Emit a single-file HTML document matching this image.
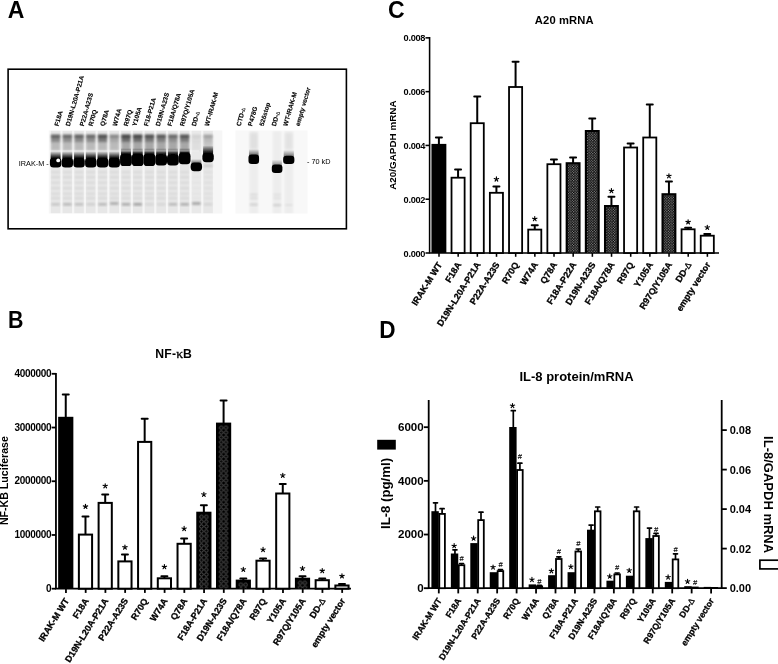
<!DOCTYPE html>
<html><head><meta charset="utf-8"><title>Figure</title>
<style>
html,body{margin:0;padding:0;background:#fff;}
body{width:778px;height:664px;overflow:hidden;}
svg{display:block;}
text{font-family:"Liberation Sans",sans-serif;font-weight:bold;fill:#000;}
.n{font-weight:normal;}
.s{font-family:"Liberation Serif",serif;font-weight:normal;}
</style></head><body>
<svg width="778" height="664" viewBox="0 0 778 664">
<defs>
<pattern id="pB" width="4.8" height="4.8" patternUnits="userSpaceOnUse"><rect width="4.8" height="4.8" fill="#000"/><ellipse cx="2.4" cy="2.4" rx="1.75" ry="1.7" fill="none" stroke="#707070" stroke-width="0.7"/></pattern>
<pattern id="pC" width="2.6" height="2.6" patternUnits="userSpaceOnUse"><rect width="2.6" height="2.6" fill="#000"/><rect x="0.2" y="0.2" width="0.95" height="0.95" fill="#e4e4e4"/><rect x="1.5" y="1.5" width="0.95" height="0.95" fill="#c8c8c8"/></pattern>
<filter id="b1" x="-50%" y="-50%" width="200%" height="200%"><feGaussianBlur stdDeviation="0.9"/></filter>
<filter id="b15" x="-50%" y="-50%" width="200%" height="200%"><feGaussianBlur stdDeviation="1.4"/></filter>
<filter id="b2" x="-50%" y="-50%" width="200%" height="200%"><feGaussianBlur stdDeviation="2.2"/></filter>
<filter id="b07" x="-50%" y="-50%" width="200%" height="200%"><feGaussianBlur stdDeviation="0.6"/></filter>
<filter id="b05" x="-5%" y="-5%" width="110%" height="110%"><feGaussianBlur stdDeviation="0.6"/></filter>
<linearGradient id="gs" x1="0" y1="0" x2="0" y2="1"><stop offset="0" stop-color="#000" stop-opacity="0"/><stop offset="0.3" stop-color="#000" stop-opacity="0.4"/><stop offset="0.65" stop-color="#000" stop-opacity="0.85"/><stop offset="1" stop-color="#000" stop-opacity="1"/></linearGradient>
<filter id="idt" filterUnits="userSpaceOnUse" x="0" y="0" width="778" height="664"><feGaussianBlur stdDeviation="0.38"/></filter>
<clipPath id="clL"><rect x="48.8" y="130.5" width="173.5" height="83"/></clipPath>
<clipPath id="clR"><rect x="235.5" y="130.5" width="72" height="83"/></clipPath>
</defs>
<rect width="778" height="664" fill="#fff"/>
<g filter="url(#idt)">

<text transform="translate(7.8 17.5) scale(0.98 1)" font-size="23.5">A</text>
<text transform="translate(7.9 328.2) scale(0.91 1)" font-size="23.5">B</text>
<text transform="translate(387.9 18.0) scale(0.98 1)" font-size="23.5">C</text>
<text transform="translate(379.2 337.7) scale(0.96 1)" font-size="23.5">D</text>
<rect x="8.1" y="69.2" width="338.3" height="159.6" fill="#fff" stroke="#000" stroke-width="1.6"/>
<g clip-path="url(#clL)"><g filter="url(#b05)">
<rect x="44" y="126" width="184" height="92" fill="#f6f6f6"/>
<rect x="50.8" y="130.5" width="9.6" height="83" fill="#000" opacity="0.06"/>
<rect x="51" y="134.2" width="9.2" height="3.6" fill="#000" opacity="0.32" filter="url(#b1)"/>
<rect x="51" y="135.2" width="9.2" height="7" fill="#000" opacity="0.4" filter="url(#b1)"/>
<rect x="51" y="142" width="9.2" height="8.5" fill="#000" opacity="0.19" filter="url(#b1)"/>
<rect x="50.6" y="151.2" width="10" height="9.1" fill="url(#gs)"/>
<rect x="49.9" y="157.8" width="11.4" height="9.8" fill="#000" rx="3.6" filter="url(#b07)"/>
<rect x="50.7" y="159" width="9.8" height="7.4" fill="#000" rx="2.8"/>
<rect x="51.2" y="171" width="8.8" height="2.4" fill="#000" opacity="0.05" filter="url(#b1)"/>
<rect x="51.2" y="176" width="8.8" height="2.4" fill="#000" opacity="0.06" filter="url(#b1)"/>
<rect x="51.2" y="181.5" width="8.8" height="2.4" fill="#000" opacity="0.05" filter="url(#b1)"/>
<rect x="51.2" y="187" width="8.8" height="2.4" fill="#000" opacity="0.06" filter="url(#b1)"/>
<rect x="51.2" y="192.5" width="8.8" height="2.4" fill="#000" opacity="0.05" filter="url(#b1)"/>
<rect x="51.2" y="197" width="8.8" height="2.4" fill="#000" opacity="0.06" filter="url(#b1)"/>
<rect x="51.4" y="203" width="8.4" height="2.6" fill="#000" opacity="0.14" filter="url(#b1)"/>
<rect x="62.53" y="130.5" width="9.6" height="83" fill="#000" opacity="0.06"/>
<rect x="62.73" y="134.2" width="9.2" height="3.6" fill="#000" opacity="0.3" filter="url(#b1)"/>
<rect x="62.73" y="135.2" width="9.2" height="7" fill="#000" opacity="0.38" filter="url(#b1)"/>
<rect x="62.73" y="142" width="9.2" height="8.5" fill="#000" opacity="0.19" filter="url(#b1)"/>
<rect x="62.33" y="151.2" width="10" height="9.1" fill="url(#gs)"/>
<rect x="61.63" y="157.8" width="11.4" height="9.8" fill="#000" rx="3.6" filter="url(#b07)"/>
<rect x="62.43" y="159" width="9.8" height="7.4" fill="#000" rx="2.8"/>
<rect x="62.93" y="171" width="8.8" height="2.4" fill="#000" opacity="0.05" filter="url(#b1)"/>
<rect x="62.93" y="176" width="8.8" height="2.4" fill="#000" opacity="0.06" filter="url(#b1)"/>
<rect x="62.93" y="181.5" width="8.8" height="2.4" fill="#000" opacity="0.05" filter="url(#b1)"/>
<rect x="62.93" y="187" width="8.8" height="2.4" fill="#000" opacity="0.06" filter="url(#b1)"/>
<rect x="62.93" y="192.5" width="8.8" height="2.4" fill="#000" opacity="0.05" filter="url(#b1)"/>
<rect x="62.93" y="197" width="8.8" height="2.4" fill="#000" opacity="0.06" filter="url(#b1)"/>
<rect x="63.13" y="203" width="8.4" height="2.6" fill="#000" opacity="0.2" filter="url(#b1)"/>
<rect x="74.26" y="130.5" width="9.6" height="83" fill="#000" opacity="0.06"/>
<rect x="74.46" y="134.2" width="9.2" height="3.6" fill="#000" opacity="0.32" filter="url(#b1)"/>
<rect x="74.46" y="135.2" width="9.2" height="7" fill="#000" opacity="0.4" filter="url(#b1)"/>
<rect x="74.46" y="142" width="9.2" height="8.5" fill="#000" opacity="0.19" filter="url(#b1)"/>
<rect x="74.06" y="151.2" width="10" height="9.1" fill="url(#gs)"/>
<rect x="73.36" y="157.8" width="11.4" height="9.8" fill="#000" rx="3.6" filter="url(#b07)"/>
<rect x="74.16" y="159" width="9.8" height="7.4" fill="#000" rx="2.8"/>
<rect x="74.66" y="171" width="8.8" height="2.4" fill="#000" opacity="0.05" filter="url(#b1)"/>
<rect x="74.66" y="176" width="8.8" height="2.4" fill="#000" opacity="0.06" filter="url(#b1)"/>
<rect x="74.66" y="181.5" width="8.8" height="2.4" fill="#000" opacity="0.05" filter="url(#b1)"/>
<rect x="74.66" y="187" width="8.8" height="2.4" fill="#000" opacity="0.06" filter="url(#b1)"/>
<rect x="74.66" y="192.5" width="8.8" height="2.4" fill="#000" opacity="0.05" filter="url(#b1)"/>
<rect x="74.66" y="197" width="8.8" height="2.4" fill="#000" opacity="0.06" filter="url(#b1)"/>
<rect x="74.86" y="203" width="8.4" height="2.6" fill="#000" opacity="0.17" filter="url(#b1)"/>
<rect x="85.99" y="130.5" width="9.6" height="83" fill="#000" opacity="0.06"/>
<rect x="86.19" y="134.2" width="9.2" height="3.6" fill="#000" opacity="0.3" filter="url(#b1)"/>
<rect x="86.19" y="135.2" width="9.2" height="7" fill="#000" opacity="0.38" filter="url(#b1)"/>
<rect x="86.19" y="142" width="9.2" height="8.5" fill="#000" opacity="0.19" filter="url(#b1)"/>
<rect x="85.79" y="151.2" width="10" height="9.1" fill="url(#gs)"/>
<rect x="85.09" y="157.8" width="11.4" height="9.8" fill="#000" rx="3.6" filter="url(#b07)"/>
<rect x="85.89" y="159" width="9.8" height="7.4" fill="#000" rx="2.8"/>
<rect x="86.39" y="171" width="8.8" height="2.4" fill="#000" opacity="0.05" filter="url(#b1)"/>
<rect x="86.39" y="176" width="8.8" height="2.4" fill="#000" opacity="0.06" filter="url(#b1)"/>
<rect x="86.39" y="181.5" width="8.8" height="2.4" fill="#000" opacity="0.05" filter="url(#b1)"/>
<rect x="86.39" y="187" width="8.8" height="2.4" fill="#000" opacity="0.06" filter="url(#b1)"/>
<rect x="86.39" y="192.5" width="8.8" height="2.4" fill="#000" opacity="0.05" filter="url(#b1)"/>
<rect x="86.39" y="197" width="8.8" height="2.4" fill="#000" opacity="0.06" filter="url(#b1)"/>
<rect x="86.59" y="203" width="8.4" height="2.6" fill="#000" opacity="0.1" filter="url(#b1)"/>
<rect x="97.72" y="130.5" width="9.6" height="83" fill="#000" opacity="0.06"/>
<rect x="97.92" y="134.2" width="9.2" height="3.6" fill="#000" opacity="0.38" filter="url(#b1)"/>
<rect x="97.92" y="135.2" width="9.2" height="7" fill="#000" opacity="0.47" filter="url(#b1)"/>
<rect x="97.92" y="142" width="9.2" height="8.5" fill="#000" opacity="0.19" filter="url(#b1)"/>
<rect x="97.52" y="151.2" width="10" height="9.1" fill="url(#gs)"/>
<rect x="96.82" y="157.8" width="11.4" height="9.8" fill="#000" rx="3.6" filter="url(#b07)"/>
<rect x="97.62" y="159" width="9.8" height="7.4" fill="#000" rx="2.8"/>
<rect x="98.12" y="171" width="8.8" height="2.4" fill="#000" opacity="0.05" filter="url(#b1)"/>
<rect x="98.12" y="176" width="8.8" height="2.4" fill="#000" opacity="0.06" filter="url(#b1)"/>
<rect x="98.12" y="181.5" width="8.8" height="2.4" fill="#000" opacity="0.05" filter="url(#b1)"/>
<rect x="98.12" y="187" width="8.8" height="2.4" fill="#000" opacity="0.06" filter="url(#b1)"/>
<rect x="98.12" y="192.5" width="8.8" height="2.4" fill="#000" opacity="0.05" filter="url(#b1)"/>
<rect x="98.12" y="197" width="8.8" height="2.4" fill="#000" opacity="0.06" filter="url(#b1)"/>
<rect x="98.32" y="203" width="8.4" height="2.6" fill="#000" opacity="0.2" filter="url(#b1)"/>
<rect x="109.45" y="130.5" width="9.6" height="83" fill="#000" opacity="0.06"/>
<rect x="109.65" y="134.2" width="9.2" height="3.6" fill="#000" opacity="0.21" filter="url(#b1)"/>
<rect x="109.65" y="135.2" width="9.2" height="7" fill="#000" opacity="0.27" filter="url(#b1)"/>
<rect x="109.65" y="142" width="9.2" height="8.5" fill="#000" opacity="0.19" filter="url(#b1)"/>
<rect x="109.25" y="151.2" width="10" height="9.1" fill="url(#gs)"/>
<rect x="108.55" y="157.8" width="11.4" height="9.8" fill="#000" rx="3.6" filter="url(#b07)"/>
<rect x="109.35" y="159" width="9.8" height="7.4" fill="#000" rx="2.8"/>
<rect x="109.85" y="171" width="8.8" height="2.4" fill="#000" opacity="0.05" filter="url(#b1)"/>
<rect x="109.85" y="176" width="8.8" height="2.4" fill="#000" opacity="0.06" filter="url(#b1)"/>
<rect x="109.85" y="181.5" width="8.8" height="2.4" fill="#000" opacity="0.05" filter="url(#b1)"/>
<rect x="109.85" y="187" width="8.8" height="2.4" fill="#000" opacity="0.06" filter="url(#b1)"/>
<rect x="109.85" y="192.5" width="8.8" height="2.4" fill="#000" opacity="0.05" filter="url(#b1)"/>
<rect x="109.85" y="197" width="8.8" height="2.4" fill="#000" opacity="0.06" filter="url(#b1)"/>
<rect x="110.05" y="202.2" width="8.4" height="2.6" fill="#000" opacity="0.26" filter="url(#b1)"/>
<rect x="121.18" y="130.5" width="9.6" height="83" fill="#000" opacity="0.06"/>
<rect x="121.38" y="134.2" width="9.2" height="3.6" fill="#000" opacity="0.41" filter="url(#b1)"/>
<rect x="121.38" y="135.2" width="9.2" height="7" fill="#000" opacity="0.52" filter="url(#b1)"/>
<rect x="121.38" y="142" width="9.2" height="8.5" fill="#000" opacity="0.27" filter="url(#b1)"/>
<rect x="120.98" y="148" width="10" height="8.3" fill="url(#gs)"/>
<rect x="120.08" y="153.8" width="11.8" height="12.2" fill="#000" rx="3.6" filter="url(#b07)"/>
<rect x="120.88" y="155" width="10.2" height="9.8" fill="#000" rx="2.8"/>
<rect x="121.58" y="171" width="8.8" height="2.4" fill="#000" opacity="0.05" filter="url(#b1)"/>
<rect x="121.58" y="176" width="8.8" height="2.4" fill="#000" opacity="0.06" filter="url(#b1)"/>
<rect x="121.58" y="181.5" width="8.8" height="2.4" fill="#000" opacity="0.05" filter="url(#b1)"/>
<rect x="121.58" y="187" width="8.8" height="2.4" fill="#000" opacity="0.06" filter="url(#b1)"/>
<rect x="121.58" y="192.5" width="8.8" height="2.4" fill="#000" opacity="0.05" filter="url(#b1)"/>
<rect x="121.58" y="197" width="8.8" height="2.4" fill="#000" opacity="0.06" filter="url(#b1)"/>
<rect x="121.78" y="203" width="8.4" height="2.6" fill="#000" opacity="0.26" filter="url(#b1)"/>
<rect x="132.91" y="130.5" width="9.6" height="83" fill="#000" opacity="0.06"/>
<rect x="133.11" y="134.2" width="9.2" height="3.6" fill="#000" opacity="0.41" filter="url(#b1)"/>
<rect x="133.11" y="135.2" width="9.2" height="7" fill="#000" opacity="0.52" filter="url(#b1)"/>
<rect x="133.11" y="142" width="9.2" height="8.5" fill="#000" opacity="0.27" filter="url(#b1)"/>
<rect x="132.71" y="148" width="10" height="8.3" fill="url(#gs)"/>
<rect x="131.81" y="153.8" width="11.8" height="12.2" fill="#000" rx="3.6" filter="url(#b07)"/>
<rect x="132.61" y="155" width="10.2" height="9.8" fill="#000" rx="2.8"/>
<rect x="133.31" y="171" width="8.8" height="2.4" fill="#000" opacity="0.05" filter="url(#b1)"/>
<rect x="133.31" y="176" width="8.8" height="2.4" fill="#000" opacity="0.06" filter="url(#b1)"/>
<rect x="133.31" y="181.5" width="8.8" height="2.4" fill="#000" opacity="0.05" filter="url(#b1)"/>
<rect x="133.31" y="187" width="8.8" height="2.4" fill="#000" opacity="0.06" filter="url(#b1)"/>
<rect x="133.31" y="192.5" width="8.8" height="2.4" fill="#000" opacity="0.05" filter="url(#b1)"/>
<rect x="133.31" y="197" width="8.8" height="2.4" fill="#000" opacity="0.06" filter="url(#b1)"/>
<rect x="133.51" y="203" width="8.4" height="2.6" fill="#000" opacity="0.3" filter="url(#b1)"/>
<rect x="144.64" y="130.5" width="9.6" height="83" fill="#000" opacity="0.06"/>
<rect x="144.84" y="134.2" width="9.2" height="3.6" fill="#000" opacity="0.38" filter="url(#b1)"/>
<rect x="144.84" y="135.2" width="9.2" height="7" fill="#000" opacity="0.47" filter="url(#b1)"/>
<rect x="144.84" y="142" width="9.2" height="8.5" fill="#000" opacity="0.27" filter="url(#b1)"/>
<rect x="144.44" y="148" width="10" height="8.3" fill="url(#gs)"/>
<rect x="143.54" y="153.8" width="11.8" height="12.2" fill="#000" rx="3.6" filter="url(#b07)"/>
<rect x="144.34" y="155" width="10.2" height="9.8" fill="#000" rx="2.8"/>
<rect x="145.04" y="171" width="8.8" height="2.4" fill="#000" opacity="0.05" filter="url(#b1)"/>
<rect x="145.04" y="176" width="8.8" height="2.4" fill="#000" opacity="0.06" filter="url(#b1)"/>
<rect x="145.04" y="181.5" width="8.8" height="2.4" fill="#000" opacity="0.05" filter="url(#b1)"/>
<rect x="145.04" y="187" width="8.8" height="2.4" fill="#000" opacity="0.06" filter="url(#b1)"/>
<rect x="145.04" y="192.5" width="8.8" height="2.4" fill="#000" opacity="0.05" filter="url(#b1)"/>
<rect x="145.04" y="197" width="8.8" height="2.4" fill="#000" opacity="0.06" filter="url(#b1)"/>
<rect x="145.24" y="203" width="8.4" height="2.6" fill="#000" opacity="0.07" filter="url(#b1)"/>
<rect x="156.37" y="130.5" width="9.6" height="83" fill="#000" opacity="0.06"/>
<rect x="156.57" y="134.2" width="9.2" height="3.6" fill="#000" opacity="0.35" filter="url(#b1)"/>
<rect x="156.57" y="135.2" width="9.2" height="7" fill="#000" opacity="0.44" filter="url(#b1)"/>
<rect x="156.57" y="142" width="9.2" height="8.5" fill="#000" opacity="0.27" filter="url(#b1)"/>
<rect x="156.17" y="148" width="10" height="8.7" fill="url(#gs)"/>
<rect x="155.27" y="154.2" width="11.8" height="11.2" fill="#000" rx="3.6" filter="url(#b07)"/>
<rect x="156.07" y="155.4" width="10.2" height="8.8" fill="#000" rx="2.8"/>
<rect x="156.77" y="171" width="8.8" height="2.4" fill="#000" opacity="0.05" filter="url(#b1)"/>
<rect x="156.77" y="176" width="8.8" height="2.4" fill="#000" opacity="0.06" filter="url(#b1)"/>
<rect x="156.77" y="181.5" width="8.8" height="2.4" fill="#000" opacity="0.05" filter="url(#b1)"/>
<rect x="156.77" y="187" width="8.8" height="2.4" fill="#000" opacity="0.06" filter="url(#b1)"/>
<rect x="156.77" y="192.5" width="8.8" height="2.4" fill="#000" opacity="0.05" filter="url(#b1)"/>
<rect x="156.77" y="197" width="8.8" height="2.4" fill="#000" opacity="0.06" filter="url(#b1)"/>
<rect x="156.97" y="203" width="8.4" height="2.6" fill="#000" opacity="0.07" filter="url(#b1)"/>
<rect x="168.1" y="130.5" width="9.6" height="83" fill="#000" opacity="0.06"/>
<rect x="168.3" y="134.2" width="9.2" height="3.6" fill="#000" opacity="0.3" filter="url(#b1)"/>
<rect x="168.3" y="135.2" width="9.2" height="7" fill="#000" opacity="0.38" filter="url(#b1)"/>
<rect x="168.3" y="142" width="9.2" height="8.5" fill="#000" opacity="0.27" filter="url(#b1)"/>
<rect x="167.9" y="148" width="10" height="8.7" fill="url(#gs)"/>
<rect x="167" y="154.2" width="11.8" height="11.2" fill="#000" rx="3.6" filter="url(#b07)"/>
<rect x="167.8" y="155.4" width="10.2" height="8.8" fill="#000" rx="2.8"/>
<rect x="168.5" y="171" width="8.8" height="2.4" fill="#000" opacity="0.05" filter="url(#b1)"/>
<rect x="168.5" y="176" width="8.8" height="2.4" fill="#000" opacity="0.06" filter="url(#b1)"/>
<rect x="168.5" y="181.5" width="8.8" height="2.4" fill="#000" opacity="0.05" filter="url(#b1)"/>
<rect x="168.5" y="187" width="8.8" height="2.4" fill="#000" opacity="0.06" filter="url(#b1)"/>
<rect x="168.5" y="192.5" width="8.8" height="2.4" fill="#000" opacity="0.05" filter="url(#b1)"/>
<rect x="168.5" y="197" width="8.8" height="2.4" fill="#000" opacity="0.06" filter="url(#b1)"/>
<rect x="168.7" y="203" width="8.4" height="2.6" fill="#000" opacity="0.2" filter="url(#b1)"/>
<rect x="179.83" y="130.5" width="9.6" height="83" fill="#000" opacity="0.06"/>
<rect x="180.03" y="134.2" width="9.2" height="3.6" fill="#000" opacity="0.36" filter="url(#b1)"/>
<rect x="180.03" y="135.2" width="9.2" height="7" fill="#000" opacity="0.46" filter="url(#b1)"/>
<rect x="180.03" y="142" width="9.2" height="8.5" fill="#000" opacity="0.27" filter="url(#b1)"/>
<rect x="179.63" y="148" width="10" height="7.1" fill="url(#gs)"/>
<rect x="178.73" y="152.6" width="11.8" height="11.6" fill="#000" rx="3.6" filter="url(#b07)"/>
<rect x="179.53" y="153.8" width="10.2" height="9.2" fill="#000" rx="2.8"/>
<rect x="180.23" y="171" width="8.8" height="2.4" fill="#000" opacity="0.05" filter="url(#b1)"/>
<rect x="180.23" y="176" width="8.8" height="2.4" fill="#000" opacity="0.06" filter="url(#b1)"/>
<rect x="180.23" y="181.5" width="8.8" height="2.4" fill="#000" opacity="0.05" filter="url(#b1)"/>
<rect x="180.23" y="187" width="8.8" height="2.4" fill="#000" opacity="0.06" filter="url(#b1)"/>
<rect x="180.23" y="192.5" width="8.8" height="2.4" fill="#000" opacity="0.05" filter="url(#b1)"/>
<rect x="180.23" y="197" width="8.8" height="2.4" fill="#000" opacity="0.06" filter="url(#b1)"/>
<rect x="180.43" y="203" width="8.4" height="2.6" fill="#000" opacity="0.25" filter="url(#b1)"/>
<rect x="191.56" y="130.5" width="9.6" height="83" fill="#000" opacity="0.05"/>
<rect x="191.76" y="134.2" width="9.2" height="3.6" fill="#000" opacity="0.04" filter="url(#b1)"/>
<rect x="191.76" y="135.2" width="9.2" height="7" fill="#000" opacity="0.06" filter="url(#b1)"/>
<rect x="191.76" y="142" width="9.2" height="8.5" fill="#000" opacity="0.04" filter="url(#b1)"/>
<rect x="191.36" y="159" width="10" height="6.1" fill="url(#gs)" opacity="0.6"/>
<rect x="190.66" y="162.6" width="11.4" height="8.6" fill="#000" rx="3.6" filter="url(#b07)"/>
<rect x="191.46" y="163.8" width="9.8" height="6.2" fill="#000" rx="2.8"/>
<rect x="191.96" y="171" width="8.8" height="2.4" fill="#000" opacity="0.02" filter="url(#b1)"/>
<rect x="191.96" y="176" width="8.8" height="2.4" fill="#000" opacity="0.02" filter="url(#b1)"/>
<rect x="191.96" y="181.5" width="8.8" height="2.4" fill="#000" opacity="0.02" filter="url(#b1)"/>
<rect x="191.96" y="187" width="8.8" height="2.4" fill="#000" opacity="0.02" filter="url(#b1)"/>
<rect x="191.96" y="192.5" width="8.8" height="2.4" fill="#000" opacity="0.02" filter="url(#b1)"/>
<rect x="191.96" y="197" width="8.8" height="2.4" fill="#000" opacity="0.02" filter="url(#b1)"/>
<rect x="192.16" y="202.2" width="8.4" height="2.6" fill="#000" opacity="0.3" filter="url(#b1)"/>
<rect x="203.29" y="130.5" width="9.6" height="83" fill="#000" opacity="0.06"/>
<rect x="203.49" y="134.2" width="9.2" height="3.6" fill="#000" opacity="0.15" filter="url(#b1)"/>
<rect x="203.49" y="135.2" width="9.2" height="7" fill="#000" opacity="0.19" filter="url(#b1)"/>
<rect x="203.49" y="142" width="9.2" height="8.5" fill="#000" opacity="0.14" filter="url(#b1)"/>
<rect x="203.09" y="145.5" width="10" height="9.8" fill="url(#gs)"/>
<rect x="202.39" y="152.8" width="11.4" height="9.4" fill="#000" rx="3.6" filter="url(#b07)"/>
<rect x="203.19" y="154" width="9.8" height="7" fill="#000" rx="2.8"/>
<rect x="203.69" y="171" width="8.8" height="2.4" fill="#000" opacity="0.03" filter="url(#b1)"/>
<rect x="203.69" y="176" width="8.8" height="2.4" fill="#000" opacity="0.03" filter="url(#b1)"/>
<rect x="203.69" y="181.5" width="8.8" height="2.4" fill="#000" opacity="0.03" filter="url(#b1)"/>
<rect x="203.69" y="187" width="8.8" height="2.4" fill="#000" opacity="0.03" filter="url(#b1)"/>
<rect x="203.69" y="192.5" width="8.8" height="2.4" fill="#000" opacity="0.03" filter="url(#b1)"/>
<rect x="203.69" y="197" width="8.8" height="2.4" fill="#000" opacity="0.03" filter="url(#b1)"/>
<rect x="203.89" y="203" width="8.4" height="2.6" fill="#000" opacity="0.08" filter="url(#b1)"/>
<rect x="203.59" y="164.5" width="9" height="2.6" fill="#000" opacity="0.12" filter="url(#b1)"/>
<rect x="49" y="150.3" width="150" height="1.2" fill="#fff" opacity="0.35" filter="url(#b07)"/>
<circle cx="58.2" cy="160.4" r="1.9" fill="#fff" filter="url(#b07)"/>
</g></g>
<g clip-path="url(#clR)"><g filter="url(#b05)">
<rect x="231" y="126" width="82" height="92" fill="#f8f8f8"/>
<rect x="249.27" y="131" width="9" height="83" fill="#000" opacity="0.04" filter="url(#b1)"/>
<rect x="272.61" y="131" width="9" height="83" fill="#000" opacity="0.04" filter="url(#b1)"/>
<rect x="284.28" y="131" width="9" height="83" fill="#000" opacity="0.04" filter="url(#b1)"/>
<rect x="249.77" y="133" width="8" height="16" fill="#000" opacity="0.05" filter="url(#b15)"/>
<rect x="248.97" y="149" width="9.6" height="8.6" fill="url(#gs)" opacity="0.6"/>
<rect x="248.47" y="154.6" width="10.6" height="9.4" fill="#000" rx="3.2" filter="url(#b07)"/>
<rect x="249.07" y="155.7" width="9.4" height="7.4" fill="#000" rx="2.6"/>
<rect x="249.77" y="193.5" width="8" height="2.2" fill="#000" opacity="0.07" filter="url(#b1)"/>
<rect x="249.77" y="197" width="8" height="2.2" fill="#000" opacity="0.07" filter="url(#b1)"/>
<rect x="249.77" y="203.5" width="8" height="2.2" fill="#000" opacity="0.12" filter="url(#b1)"/>
<rect x="272.31" y="159.5" width="9.6" height="7.9" fill="url(#gs)" opacity="0.45"/>
<rect x="271.81" y="164.4" width="10.6" height="8.6" fill="#000" rx="3.2" filter="url(#b07)"/>
<rect x="272.41" y="165.5" width="9.4" height="6.6" fill="#000" rx="2.6"/>
<rect x="273.11" y="193.5" width="8" height="2.2" fill="#000" opacity="0.05" filter="url(#b1)"/>
<rect x="273.11" y="197" width="8" height="2.2" fill="#000" opacity="0.05" filter="url(#b1)"/>
<rect x="273.11" y="204" width="8" height="2.2" fill="#000" opacity="0.12" filter="url(#b1)"/>
<rect x="284.78" y="133" width="8" height="16" fill="#000" opacity="0.04" filter="url(#b15)"/>
<rect x="283.68" y="150" width="10.2" height="8.8" fill="url(#gs)" opacity="0.55"/>
<rect x="283.18" y="155.8" width="11.2" height="8.2" fill="#000" rx="3.2" filter="url(#b07)"/>
<rect x="283.78" y="156.9" width="10" height="6.2" fill="#000" rx="2.6"/>
<rect x="284.78" y="204" width="8" height="2" fill="#000" opacity="0.05" filter="url(#b1)"/>
</g></g>
<text transform="translate(58.5 126.5) rotate(-74)" font-size="6.4" fill="#000" stroke="#000" stroke-width="0.12">F18A</text>
<text transform="translate(69.73 126.5) rotate(-74)" font-size="6.4" fill="#000" stroke="#000" stroke-width="0.12">D19N-L20A-P21A</text>
<text transform="translate(83.76 126.5) rotate(-74)" font-size="6.4" fill="#000" stroke="#000" stroke-width="0.12">P22A-A23S</text>
<text transform="translate(92.59 126.5) rotate(-74)" font-size="6.4" fill="#000" stroke="#000" stroke-width="0.12">R70Q</text>
<text transform="translate(104.32 126.5) rotate(-74)" font-size="6.4" fill="#000" stroke="#000" stroke-width="0.12">Q78A</text>
<text transform="translate(116.65 126.5) rotate(-74)" font-size="6.4" fill="#000" stroke="#000" stroke-width="0.12">W74A</text>
<text transform="translate(127.78 126.5) rotate(-74)" font-size="6.4" fill="#000" stroke="#000" stroke-width="0.12">R97Q</text>
<text transform="translate(136.31 126.5) rotate(-74)" font-size="6.4" fill="#000" stroke="#000" stroke-width="0.12">Y105A</text>
<text transform="translate(148.04 126.5) rotate(-74)" font-size="6.4" fill="#000" stroke="#000" stroke-width="0.12">F18-P21A</text>
<text transform="translate(159.77 126.5) rotate(-74)" font-size="6.4" fill="#000" stroke="#000" stroke-width="0.12">D19N-A23S</text>
<text transform="translate(171.5 126.5) rotate(-74)" font-size="6.4" fill="#000" stroke="#000" stroke-width="0.12">F18A/Q78A</text>
<text transform="translate(183.93 126.5) rotate(-74)" font-size="6.4" fill="#000" stroke="#000" stroke-width="0.12">R97Q/Y105A</text>
<text transform="translate(195.66 126.5) rotate(-74)" font-size="6.4" fill="#000" stroke="#000" stroke-width="0.12">DD-<tspan class="n" font-size="5">Δ</tspan></text>
<text transform="translate(208.69 126.5) rotate(-74)" font-size="6.4" fill="#000" stroke="#000" stroke-width="0.12">WT-IRAK-M</text>
<text transform="translate(240.4 126.4) rotate(-74)" font-size="6.4" fill="#000" stroke="#000" stroke-width="0.12">CTD-<tspan class="n" font-size="5">Δ</tspan></text>
<text transform="translate(252 126.4) rotate(-74)" font-size="6.4" fill="#000" stroke="#000" stroke-width="0.12">P478G</text>
<text transform="translate(263.6 126.4) rotate(-74)" font-size="6.4" fill="#000" stroke="#000" stroke-width="0.12">526stop</text>
<text transform="translate(275.8 126.4) rotate(-74)" font-size="6.4" fill="#000" stroke="#000" stroke-width="0.12">DD-<tspan class="n" font-size="5">Δ</tspan></text>
<text transform="translate(287.3 126.4) rotate(-74)" font-size="6.4" fill="#000" stroke="#000" stroke-width="0.12">WT-IRAK-M</text>
<text transform="translate(299.6 126.4) rotate(-74)" font-size="6.4" fill="#000" stroke="#000" stroke-width="0.12">empty vector</text>
<text x="18.8" y="166.2" font-size="7.3" class="n" fill="#222">IRAK-M -</text>
<text x="307" y="163.8" font-size="7.3" class="n" fill="#222">- 70 kD</text>
<text x="173.7" y="357.9" font-size="12.2" text-anchor="middle" letter-spacing="0.15">NF-<tspan class="s" font-size="13.5" stroke="#000" stroke-width="0.3">κ</tspan>B</text>
<path d="M55.95 372.9V588.7H351" stroke="#000" stroke-width="1.8" fill="none"/>
<path d="M51.65 588.7H55.95" stroke="#000" stroke-width="1.8"/>
<text x="51.3" y="591.7" font-size="10" text-anchor="end" letter-spacing="-0.32">0</text>
<path d="M51.65 534.98H55.95" stroke="#000" stroke-width="1.8"/>
<text x="51.3" y="537.98" font-size="10" text-anchor="end" letter-spacing="-0.32">1000000</text>
<path d="M51.65 481.25H55.95" stroke="#000" stroke-width="1.8"/>
<text x="51.3" y="484.25" font-size="10" text-anchor="end" letter-spacing="-0.32">2000000</text>
<path d="M51.65 427.53H55.95" stroke="#000" stroke-width="1.8"/>
<text x="51.3" y="430.53" font-size="10" text-anchor="end" letter-spacing="-0.32">3000000</text>
<path d="M51.65 373.8H55.95" stroke="#000" stroke-width="1.8"/>
<text x="51.3" y="376.8" font-size="10" text-anchor="end" letter-spacing="-0.32">4000000</text>
<text transform="translate(8.2 480.6) rotate(-90)" font-size="10.6" text-anchor="middle">NF-KB Luciferase</text>
<path d="M65.75 417.8V394.6" stroke="#000" stroke-width="2.0" fill="none"/><path d="M62.75 394.6H68.75" stroke="#000" stroke-width="2.0" stroke-linecap="round" fill="none"/>
<rect x="58.15" y="416.8" width="15.2" height="171.9" fill="#000"/>
<path d="M65.95 588.7V592.9" stroke="#000" stroke-width="1.8"/>
<text transform="translate(69.35 600.7) rotate(-58)" text-anchor="end" font-size="9.0" stroke="#000" stroke-width="0.3">IRAK-M WT</text>
<path d="M85.48 534.6V516.4" stroke="#000" stroke-width="2.0" fill="none"/><path d="M82.48 516.4H88.48" stroke="#000" stroke-width="2.0" stroke-linecap="round" fill="none"/>
<rect x="78.88" y="534.6" width="13.2" height="54.1" fill="#fff" stroke="#000" stroke-width="2.0"/>
<path d="M85.68 588.7V592.9" stroke="#000" stroke-width="1.8"/>
<path d="M85.48 506.6L85.48 504.3M85.48 506.6L87.67 505.89M85.48 506.6L86.83 508.46M85.48 506.6L84.13 508.46M85.48 506.6L83.29 505.89" stroke="#000" stroke-width="1.15" stroke-linecap="round" fill="none"/>
<text transform="translate(89.08 600.7) rotate(-58)" text-anchor="end" font-size="9.0" stroke="#000" stroke-width="0.3">F18A</text>
<path d="M105.21 502.9V494.5" stroke="#000" stroke-width="2.0" fill="none"/><path d="M102.21 494.5H108.21" stroke="#000" stroke-width="2.0" stroke-linecap="round" fill="none"/>
<rect x="98.61" y="502.9" width="13.2" height="85.8" fill="#fff" stroke="#000" stroke-width="2.0"/>
<path d="M105.41 588.7V592.9" stroke="#000" stroke-width="1.8"/>
<path d="M105.21 486L105.21 483.7M105.21 486L107.4 485.29M105.21 486L106.56 487.86M105.21 486L103.86 487.86M105.21 486L103.02 485.29" stroke="#000" stroke-width="1.15" stroke-linecap="round" fill="none"/>
<text transform="translate(108.81 600.7) rotate(-58)" text-anchor="end" font-size="9.0" stroke="#000" stroke-width="0.3">D19N-L20A-P21A</text>
<path d="M124.94 561.4V554.6" stroke="#000" stroke-width="2.0" fill="none"/><path d="M121.94 554.6H127.94" stroke="#000" stroke-width="2.0" stroke-linecap="round" fill="none"/>
<rect x="118.34" y="561.4" width="13.2" height="27.3" fill="#fff" stroke="#000" stroke-width="2.0"/>
<path d="M125.14 588.7V592.9" stroke="#000" stroke-width="1.8"/>
<path d="M124.94 547.3L124.94 545M124.94 547.3L127.13 546.59M124.94 547.3L126.29 549.16M124.94 547.3L123.59 549.16M124.94 547.3L122.75 546.59" stroke="#000" stroke-width="1.15" stroke-linecap="round" fill="none"/>
<text transform="translate(128.54 600.7) rotate(-58)" text-anchor="end" font-size="9.0" stroke="#000" stroke-width="0.3">P22A-A23S</text>
<path d="M144.67 441.9V418.7" stroke="#000" stroke-width="2.0" fill="none"/><path d="M141.67 418.7H147.67" stroke="#000" stroke-width="2.0" stroke-linecap="round" fill="none"/>
<rect x="138.07" y="441.9" width="13.2" height="146.8" fill="#fff" stroke="#000" stroke-width="2.0"/>
<path d="M144.87 588.7V592.9" stroke="#000" stroke-width="1.8"/>
<text transform="translate(148.27 600.7) rotate(-58)" text-anchor="end" font-size="9.0" stroke="#000" stroke-width="0.3">R70Q</text>
<path d="M164.4 578.3V576.3" stroke="#000" stroke-width="2.0" fill="none"/><path d="M161.4 576.3H167.4" stroke="#000" stroke-width="2.0" stroke-linecap="round" fill="none"/>
<rect x="157.8" y="578.3" width="13.2" height="10.4" fill="#fff" stroke="#000" stroke-width="2.0"/>
<path d="M164.6 588.7V592.9" stroke="#000" stroke-width="1.8"/>
<path d="M164.4 566.9L164.4 564.6M164.4 566.9L166.59 566.19M164.4 566.9L165.75 568.76M164.4 566.9L163.05 568.76M164.4 566.9L162.21 566.19" stroke="#000" stroke-width="1.15" stroke-linecap="round" fill="none"/>
<text transform="translate(168 600.7) rotate(-58)" text-anchor="end" font-size="9.0" stroke="#000" stroke-width="0.3">W74A</text>
<path d="M184.13 543.8V538.5" stroke="#000" stroke-width="2.0" fill="none"/><path d="M181.13 538.5H187.13" stroke="#000" stroke-width="2.0" stroke-linecap="round" fill="none"/>
<rect x="177.53" y="543.8" width="13.2" height="44.9" fill="#fff" stroke="#000" stroke-width="2.0"/>
<path d="M184.33 588.7V592.9" stroke="#000" stroke-width="1.8"/>
<path d="M184.13 528.7L184.13 526.4M184.13 528.7L186.32 527.99M184.13 528.7L185.48 530.56M184.13 528.7L182.78 530.56M184.13 528.7L181.94 527.99" stroke="#000" stroke-width="1.15" stroke-linecap="round" fill="none"/>
<text transform="translate(187.73 600.7) rotate(-58)" text-anchor="end" font-size="9.0" stroke="#000" stroke-width="0.3">Q78A</text>
<path d="M203.86 512.7V505.2" stroke="#000" stroke-width="2.0" fill="none"/><path d="M200.86 505.2H206.86" stroke="#000" stroke-width="2.0" stroke-linecap="round" fill="none"/>
<rect x="196.26" y="511.7" width="15.2" height="77" fill="#000"/><g transform="translate(199.06 514.5)"><rect x="0" y="0" width="9.6" height="73.7" fill="url(#pB)"/></g>
<path d="M204.06 588.7V592.9" stroke="#000" stroke-width="1.8"/>
<path d="M203.86 494.5L203.86 492.2M203.86 494.5L206.05 493.79M203.86 494.5L205.21 496.36M203.86 494.5L202.51 496.36M203.86 494.5L201.67 493.79" stroke="#000" stroke-width="1.15" stroke-linecap="round" fill="none"/>
<text transform="translate(207.46 600.7) rotate(-58)" text-anchor="end" font-size="9.0" stroke="#000" stroke-width="0.3">F18A-P21A</text>
<path d="M223.59 423.6V400.5" stroke="#000" stroke-width="2.0" fill="none"/><path d="M220.59 400.5H226.59" stroke="#000" stroke-width="2.0" stroke-linecap="round" fill="none"/>
<rect x="215.99" y="422.6" width="15.2" height="166.1" fill="#000"/><g transform="translate(218.79 425.4)"><rect x="0" y="0" width="9.6" height="162.8" fill="url(#pB)"/></g>
<path d="M223.79 588.7V592.9" stroke="#000" stroke-width="1.8"/>
<text transform="translate(227.19 600.7) rotate(-58)" text-anchor="end" font-size="9.0" stroke="#000" stroke-width="0.3">D19N-A23S</text>
<path d="M243.32 580.6V578.6" stroke="#000" stroke-width="2.0" fill="none"/><path d="M240.32 578.6H246.32" stroke="#000" stroke-width="2.0" stroke-linecap="round" fill="none"/>
<rect x="235.72" y="579.6" width="15.2" height="9.1" fill="#000"/><g transform="translate(238.52 582.4)"><rect x="0" y="0" width="9.6" height="5.8" fill="url(#pB)"/></g>
<path d="M243.52 588.7V592.9" stroke="#000" stroke-width="1.8"/>
<path d="M243.32 569.5L243.32 567.2M243.32 569.5L245.51 568.79M243.32 569.5L244.67 571.36M243.32 569.5L241.97 571.36M243.32 569.5L241.13 568.79" stroke="#000" stroke-width="1.15" stroke-linecap="round" fill="none"/>
<text transform="translate(246.92 600.7) rotate(-58)" text-anchor="end" font-size="9.0" stroke="#000" stroke-width="0.3">F18A/Q78A</text>
<path d="M263.05 560.7V558.5" stroke="#000" stroke-width="2.0" fill="none"/><path d="M260.05 558.5H266.05" stroke="#000" stroke-width="2.0" stroke-linecap="round" fill="none"/>
<rect x="256.45" y="560.7" width="13.2" height="28" fill="#fff" stroke="#000" stroke-width="2.0"/>
<path d="M263.25 588.7V592.9" stroke="#000" stroke-width="1.8"/>
<path d="M263.05 549.7L263.05 547.4M263.05 549.7L265.24 548.99M263.05 549.7L264.4 551.56M263.05 549.7L261.7 551.56M263.05 549.7L260.86 548.99" stroke="#000" stroke-width="1.15" stroke-linecap="round" fill="none"/>
<text transform="translate(266.65 600.7) rotate(-58)" text-anchor="end" font-size="9.0" stroke="#000" stroke-width="0.3">R97Q</text>
<path d="M282.78 493.5V484.1" stroke="#000" stroke-width="2.0" fill="none"/><path d="M279.78 484.1H285.78" stroke="#000" stroke-width="2.0" stroke-linecap="round" fill="none"/>
<rect x="276.18" y="493.5" width="13.2" height="95.2" fill="#fff" stroke="#000" stroke-width="2.0"/>
<path d="M282.98 588.7V592.9" stroke="#000" stroke-width="1.8"/>
<path d="M282.78 475.5L282.78 473.2M282.78 475.5L284.97 474.79M282.78 475.5L284.13 477.36M282.78 475.5L281.43 477.36M282.78 475.5L280.59 474.79" stroke="#000" stroke-width="1.15" stroke-linecap="round" fill="none"/>
<text transform="translate(286.38 600.7) rotate(-58)" text-anchor="end" font-size="9.0" stroke="#000" stroke-width="0.3">Y105A</text>
<path d="M302.51 578.7V576.3" stroke="#000" stroke-width="2.0" fill="none"/><path d="M299.51 576.3H305.51" stroke="#000" stroke-width="2.0" stroke-linecap="round" fill="none"/>
<rect x="294.91" y="577.7" width="15.2" height="11" fill="#000"/><g transform="translate(297.71 580.5)"><rect x="0" y="0" width="9.6" height="7.7" fill="url(#pB)"/></g>
<path d="M302.71 588.7V592.9" stroke="#000" stroke-width="1.8"/>
<path d="M302.51 568.5L302.51 566.2M302.51 568.5L304.7 567.79M302.51 568.5L303.86 570.36M302.51 568.5L301.16 570.36M302.51 568.5L300.32 567.79" stroke="#000" stroke-width="1.15" stroke-linecap="round" fill="none"/>
<text transform="translate(306.11 600.7) rotate(-58)" text-anchor="end" font-size="9.0" stroke="#000" stroke-width="0.3">R97Q/Y105A</text>
<path d="M322.24 580.2V578.5" stroke="#000" stroke-width="2.0" fill="none"/><path d="M319.24 578.5H325.24" stroke="#000" stroke-width="2.0" stroke-linecap="round" fill="none"/>
<rect x="315.64" y="580.2" width="13.2" height="8.5" fill="#fff" stroke="#000" stroke-width="2.0"/>
<path d="M322.44 588.7V592.9" stroke="#000" stroke-width="1.8"/>
<path d="M322.24 570.8L322.24 568.5M322.24 570.8L324.43 570.09M322.24 570.8L323.59 572.66M322.24 570.8L320.89 572.66M322.24 570.8L320.05 570.09" stroke="#000" stroke-width="1.15" stroke-linecap="round" fill="none"/>
<text transform="translate(325.84 600.7) rotate(-58)" text-anchor="end" font-size="9.0" stroke="#000" stroke-width="0.3">DD-<tspan class="n" font-size="8.55">Δ</tspan></text>
<path d="M341.97 585.5V584" stroke="#000" stroke-width="2.0" fill="none"/><path d="M338.97 584H344.97" stroke="#000" stroke-width="2.0" stroke-linecap="round" fill="none"/>
<rect x="335.37" y="585.5" width="13.2" height="3.2" fill="#fff" stroke="#000" stroke-width="2.0"/>
<path d="M342.17 588.7V592.9" stroke="#000" stroke-width="1.8"/>
<path d="M341.97 576.1L341.97 573.8M341.97 576.1L344.16 575.39M341.97 576.1L343.32 577.96M341.97 576.1L340.62 577.96M341.97 576.1L339.78 575.39" stroke="#000" stroke-width="1.15" stroke-linecap="round" fill="none"/>
<text transform="translate(345.57 600.7) rotate(-58)" text-anchor="end" font-size="9.0" stroke="#000" stroke-width="0.3">empty vector</text>
<text x="564.3" y="23.5" font-size="11.2" text-anchor="middle" letter-spacing="0.15">A20 mRNA</text>
<path d="M429.6 37.08V253.0H719" stroke="#000" stroke-width="1.55" fill="none"/>
<path d="M425.5 253H429.6" stroke="#000" stroke-width="1.55"/>
<text x="425.1" y="256.6" font-size="9.2" text-anchor="end" letter-spacing="-0.3">0.000</text>
<path d="M425.5 199.21H429.6" stroke="#000" stroke-width="1.55"/>
<text x="425.1" y="202.81" font-size="9.2" text-anchor="end" letter-spacing="-0.3">0.002</text>
<path d="M425.5 145.43H429.6" stroke="#000" stroke-width="1.55"/>
<text x="425.1" y="149.03" font-size="9.2" text-anchor="end" letter-spacing="-0.3">0.004</text>
<path d="M425.5 91.64H429.6" stroke="#000" stroke-width="1.55"/>
<text x="425.1" y="95.24" font-size="9.2" text-anchor="end" letter-spacing="-0.3">0.006</text>
<path d="M425.5 37.85H429.6" stroke="#000" stroke-width="1.55"/>
<text x="425.1" y="41.45" font-size="9.2" text-anchor="end" letter-spacing="-0.3">0.008</text>
<text transform="translate(396.2 145.1) rotate(-90)" font-size="9.9" text-anchor="middle">A20/GAPDH mRNA</text>
<path d="M438.9 144.9V137.6" stroke="#000" stroke-width="2.0" fill="none"/><path d="M435.9 137.6H441.9" stroke="#000" stroke-width="2.0" stroke-linecap="round" fill="none"/>
<rect x="431.45" y="143.9" width="14.9" height="109.1" fill="#000"/>
<path d="M439 253V256.8" stroke="#000" stroke-width="1.55"/>
<text transform="translate(442.5 264.6) rotate(-58)" text-anchor="end" font-size="9.0" stroke="#000" stroke-width="0.3">IRAK-M WT</text>
<path d="M458.07 177.8V169.4" stroke="#000" stroke-width="2.0" fill="none"/><path d="M455.07 169.4H461.07" stroke="#000" stroke-width="2.0" stroke-linecap="round" fill="none"/>
<rect x="451.52" y="177.7" width="13.1" height="75.3" fill="#fff" stroke="#000" stroke-width="1.8"/>
<path d="M458.17 253V256.8" stroke="#000" stroke-width="1.55"/>
<text transform="translate(461.67 264.6) rotate(-58)" text-anchor="end" font-size="9.0" stroke="#000" stroke-width="0.3">F18A</text>
<path d="M477.24 123.3V96.5" stroke="#000" stroke-width="2.0" fill="none"/><path d="M474.24 96.5H480.24" stroke="#000" stroke-width="2.0" stroke-linecap="round" fill="none"/>
<rect x="470.69" y="123.2" width="13.1" height="129.8" fill="#fff" stroke="#000" stroke-width="1.8"/>
<path d="M477.34 253V256.8" stroke="#000" stroke-width="1.55"/>
<text transform="translate(480.84 264.6) rotate(-58)" text-anchor="end" font-size="9.0" stroke="#000" stroke-width="0.3">D19N-L20A-P21A</text>
<path d="M496.41 192.9V186.6" stroke="#000" stroke-width="2.0" fill="none"/><path d="M493.41 186.6H499.41" stroke="#000" stroke-width="2.0" stroke-linecap="round" fill="none"/>
<rect x="489.86" y="192.8" width="13.1" height="60.2" fill="#fff" stroke="#000" stroke-width="1.8"/>
<path d="M496.51 253V256.8" stroke="#000" stroke-width="1.55"/>
<path d="M496.41 179.2L496.41 176.9M496.41 179.2L498.6 178.49M496.41 179.2L497.76 181.06M496.41 179.2L495.06 181.06M496.41 179.2L494.22 178.49" stroke="#000" stroke-width="1.15" stroke-linecap="round" fill="none"/>
<text transform="translate(500.01 264.6) rotate(-58)" text-anchor="end" font-size="9.0" stroke="#000" stroke-width="0.3">P22A-A23S</text>
<path d="M515.58 87.1V61.8" stroke="#000" stroke-width="2.0" fill="none"/><path d="M512.58 61.8H518.58" stroke="#000" stroke-width="2.0" stroke-linecap="round" fill="none"/>
<rect x="509.03" y="87" width="13.1" height="166" fill="#fff" stroke="#000" stroke-width="1.8"/>
<path d="M515.68 253V256.8" stroke="#000" stroke-width="1.55"/>
<text transform="translate(519.18 264.6) rotate(-58)" text-anchor="end" font-size="9.0" stroke="#000" stroke-width="0.3">R70Q</text>
<path d="M534.75 229.7V225.2" stroke="#000" stroke-width="2.0" fill="none"/><path d="M531.75 225.2H537.75" stroke="#000" stroke-width="2.0" stroke-linecap="round" fill="none"/>
<rect x="528.2" y="229.6" width="13.1" height="23.4" fill="#fff" stroke="#000" stroke-width="1.8"/>
<path d="M534.85 253V256.8" stroke="#000" stroke-width="1.55"/>
<path d="M534.75 218.9L534.75 216.6M534.75 218.9L536.94 218.19M534.75 218.9L536.1 220.76M534.75 218.9L533.4 220.76M534.75 218.9L532.56 218.19" stroke="#000" stroke-width="1.15" stroke-linecap="round" fill="none"/>
<text transform="translate(538.35 264.6) rotate(-58)" text-anchor="end" font-size="9.0" stroke="#000" stroke-width="0.3">W74A</text>
<path d="M553.92 164.3V159.4" stroke="#000" stroke-width="2.0" fill="none"/><path d="M550.92 159.4H556.92" stroke="#000" stroke-width="2.0" stroke-linecap="round" fill="none"/>
<rect x="547.37" y="164.2" width="13.1" height="88.8" fill="#fff" stroke="#000" stroke-width="1.8"/>
<path d="M554.02 253V256.8" stroke="#000" stroke-width="1.55"/>
<text transform="translate(557.52 264.6) rotate(-58)" text-anchor="end" font-size="9.0" stroke="#000" stroke-width="0.3">Q78A</text>
<path d="M573.09 163.2V157.6" stroke="#000" stroke-width="2.0" fill="none"/><path d="M570.09 157.6H576.09" stroke="#000" stroke-width="2.0" stroke-linecap="round" fill="none"/>
<rect x="565.64" y="162.2" width="14.9" height="90.8" fill="#000"/><g transform="translate(567.84 164.4)"><rect x="0" y="0" width="10.5" height="88.1" fill="url(#pC)"/></g>
<path d="M573.19 253V256.8" stroke="#000" stroke-width="1.55"/>
<text transform="translate(576.69 264.6) rotate(-58)" text-anchor="end" font-size="9.0" stroke="#000" stroke-width="0.3">F18A-P22A</text>
<path d="M592.26 131V118.4" stroke="#000" stroke-width="2.0" fill="none"/><path d="M589.26 118.4H595.26" stroke="#000" stroke-width="2.0" stroke-linecap="round" fill="none"/>
<rect x="584.81" y="130" width="14.9" height="123" fill="#000"/><g transform="translate(587.01 132.2)"><rect x="0" y="0" width="10.5" height="120.3" fill="url(#pC)"/></g>
<path d="M592.36 253V256.8" stroke="#000" stroke-width="1.55"/>
<text transform="translate(595.86 264.6) rotate(-58)" text-anchor="end" font-size="9.0" stroke="#000" stroke-width="0.3">D19N-A23S</text>
<path d="M611.43 206V196.8" stroke="#000" stroke-width="2.0" fill="none"/><path d="M608.43 196.8H614.43" stroke="#000" stroke-width="2.0" stroke-linecap="round" fill="none"/>
<rect x="603.98" y="205" width="14.9" height="48" fill="#000"/><g transform="translate(606.18 207.2)"><rect x="0" y="0" width="10.5" height="45.3" fill="url(#pC)"/></g>
<path d="M611.53 253V256.8" stroke="#000" stroke-width="1.55"/>
<path d="M611.43 190.9L611.43 188.6M611.43 190.9L613.62 190.19M611.43 190.9L612.78 192.76M611.43 190.9L610.08 192.76M611.43 190.9L609.24 190.19" stroke="#000" stroke-width="1.15" stroke-linecap="round" fill="none"/>
<text transform="translate(615.03 264.6) rotate(-58)" text-anchor="end" font-size="9.0" stroke="#000" stroke-width="0.3">F18A/Q78A</text>
<path d="M630.6 147.6V143.5" stroke="#000" stroke-width="2.0" fill="none"/><path d="M627.6 143.5H633.6" stroke="#000" stroke-width="2.0" stroke-linecap="round" fill="none"/>
<rect x="624.05" y="147.5" width="13.1" height="105.5" fill="#fff" stroke="#000" stroke-width="1.8"/>
<path d="M630.7 253V256.8" stroke="#000" stroke-width="1.55"/>
<text transform="translate(634.2 264.6) rotate(-58)" text-anchor="end" font-size="9.0" stroke="#000" stroke-width="0.3">R97Q</text>
<path d="M649.77 137.6V104.4" stroke="#000" stroke-width="2.0" fill="none"/><path d="M646.77 104.4H652.77" stroke="#000" stroke-width="2.0" stroke-linecap="round" fill="none"/>
<rect x="643.22" y="137.5" width="13.1" height="115.5" fill="#fff" stroke="#000" stroke-width="1.8"/>
<path d="M649.87 253V256.8" stroke="#000" stroke-width="1.55"/>
<text transform="translate(653.37 264.6) rotate(-58)" text-anchor="end" font-size="9.0" stroke="#000" stroke-width="0.3">Y105A</text>
<path d="M668.94 194.2V181.5" stroke="#000" stroke-width="2.0" fill="none"/><path d="M665.94 181.5H671.94" stroke="#000" stroke-width="2.0" stroke-linecap="round" fill="none"/>
<rect x="661.49" y="193.2" width="14.9" height="59.8" fill="#000"/><g transform="translate(663.69 195.4)"><rect x="0" y="0" width="10.5" height="57.1" fill="url(#pC)"/></g>
<path d="M669.04 253V256.8" stroke="#000" stroke-width="1.55"/>
<path d="M668.94 176L668.94 173.7M668.94 176L671.13 175.29M668.94 176L670.29 177.86M668.94 176L667.59 177.86M668.94 176L666.75 175.29" stroke="#000" stroke-width="1.15" stroke-linecap="round" fill="none"/>
<text transform="translate(672.54 264.6) rotate(-58)" text-anchor="end" font-size="9.0" stroke="#000" stroke-width="0.3">R97Q/Y105A</text>
<path d="M688.11 229.4V227.7" stroke="#000" stroke-width="2.0" fill="none"/><path d="M685.11 227.7H691.11" stroke="#000" stroke-width="2.0" stroke-linecap="round" fill="none"/>
<rect x="681.56" y="229.3" width="13.1" height="23.7" fill="#fff" stroke="#000" stroke-width="1.8"/>
<path d="M688.21 253V256.8" stroke="#000" stroke-width="1.55"/>
<path d="M688.11 222.1L688.11 219.8M688.11 222.1L690.3 221.39M688.11 222.1L689.46 223.96M688.11 222.1L686.76 223.96M688.11 222.1L685.92 221.39" stroke="#000" stroke-width="1.15" stroke-linecap="round" fill="none"/>
<text transform="translate(691.71 264.6) rotate(-58)" text-anchor="end" font-size="9.0" stroke="#000" stroke-width="0.3">DD-<tspan class="n" font-size="8.55">Δ</tspan></text>
<path d="M707.28 235.8V234.1" stroke="#000" stroke-width="2.0" fill="none"/><path d="M704.28 234.1H710.28" stroke="#000" stroke-width="2.0" stroke-linecap="round" fill="none"/>
<rect x="700.73" y="235.7" width="13.1" height="17.3" fill="#fff" stroke="#000" stroke-width="1.8"/>
<path d="M707.38 253V256.8" stroke="#000" stroke-width="1.55"/>
<path d="M707.28 227.5L707.28 225.2M707.28 227.5L709.47 226.79M707.28 227.5L708.63 229.36M707.28 227.5L705.93 229.36M707.28 227.5L705.09 226.79" stroke="#000" stroke-width="1.15" stroke-linecap="round" fill="none"/>
<text transform="translate(710.88 264.6) rotate(-58)" text-anchor="end" font-size="9.0" stroke="#000" stroke-width="0.3">empty vector</text>
<text x="576.5" y="381.2" font-size="13" text-anchor="middle">IL-8 protein/mRNA</text>
<path d="M428.7 399.9V588.2H721.7V399.9" stroke="#000" stroke-width="1.8" fill="none"/>
<path d="M423.9 588.2H428.7" stroke="#000" stroke-width="1.8"/>
<text x="423.5" y="591.9" font-size="11.6" text-anchor="end" letter-spacing="-0.1">0</text>
<path d="M423.9 534.53H428.7" stroke="#000" stroke-width="1.8"/>
<text x="423.5" y="538.23" font-size="11.6" text-anchor="end" letter-spacing="-0.1">2000</text>
<path d="M423.9 480.86H428.7" stroke="#000" stroke-width="1.8"/>
<text x="423.5" y="484.56" font-size="11.6" text-anchor="end" letter-spacing="-0.1">4000</text>
<path d="M423.9 427.19H428.7" stroke="#000" stroke-width="1.8"/>
<text x="423.5" y="430.89" font-size="11.6" text-anchor="end" letter-spacing="-0.1">6000</text>
<path d="M721.7 588.1H726.8" stroke="#000" stroke-width="1.8"/>
<text x="729.7" y="592" font-size="11" text-anchor="start">0.00</text>
<path d="M721.7 548.6H726.8" stroke="#000" stroke-width="1.8"/>
<text x="729.7" y="552.5" font-size="11" text-anchor="start">0.02</text>
<path d="M721.7 509.1H726.8" stroke="#000" stroke-width="1.8"/>
<text x="729.7" y="513" font-size="11" text-anchor="start">0.04</text>
<path d="M721.7 469.6H726.8" stroke="#000" stroke-width="1.8"/>
<text x="729.7" y="473.5" font-size="11" text-anchor="start">0.06</text>
<path d="M721.7 430.1H726.8" stroke="#000" stroke-width="1.8"/>
<text x="729.7" y="434" font-size="11" text-anchor="start">0.08</text>
<text transform="translate(389.7 493.5) rotate(-90)" font-size="13.2" text-anchor="middle">IL-8 (pg/ml)</text>
<rect x="377.2" y="439.8" width="18.6" height="9.8" fill="#000"/>
<text transform="translate(764.2 494.6) rotate(90)" font-size="13" text-anchor="middle">IL-8/GAPDH mRNA</text>
<rect x="759.9" y="560.2" width="22" height="8.7" fill="#fff" stroke="#000" stroke-width="1.7"/>
<path d="M435.5 512.2V502.8" stroke="#000" stroke-width="1.7" fill="none"/><path d="M433.5 502.8H437.5" stroke="#000" stroke-width="1.7" stroke-linecap="round" fill="none"/>
<rect x="431.4" y="511.2" width="7.4" height="77" fill="#000"/>
<path d="M442.1 514V508.7" stroke="#000" stroke-width="1.7" fill="none"/><path d="M440.1 508.7H444.1" stroke="#000" stroke-width="1.7" stroke-linecap="round" fill="none"/>
<rect x="439.3" y="513.9" width="5.6" height="74.3" fill="#fff" stroke="#000" stroke-width="1.8"/>
<path d="M438.8 588.2V593.4" stroke="#000" stroke-width="1.8"/>
<text transform="translate(442.1 600.6) rotate(-58)" text-anchor="end" font-size="8.7" stroke="#000" stroke-width="0.3">IRAK-M WT</text>
<path d="M454.95 554.5V549.8" stroke="#000" stroke-width="1.7" fill="none"/><path d="M452.95 549.8H456.95" stroke="#000" stroke-width="1.7" stroke-linecap="round" fill="none"/>
<rect x="450.85" y="553.5" width="7.4" height="34.7" fill="#000"/>
<path d="M461.55 565.3V563.5" stroke="#000" stroke-width="1.7" fill="none"/><path d="M459.55 563.5H463.55" stroke="#000" stroke-width="1.7" stroke-linecap="round" fill="none"/>
<rect x="458.75" y="565.2" width="5.6" height="23" fill="#fff" stroke="#000" stroke-width="1.8"/>
<path d="M458.25 588.2V593.4" stroke="#000" stroke-width="1.8"/>
<path d="M454.15 545.9L454.15 543.6M454.15 545.9L456.34 545.19M454.15 545.9L455.5 547.76M454.15 545.9L452.8 547.76M454.15 545.9L451.96 545.19" stroke="#000" stroke-width="1.1" stroke-linecap="round" fill="none"/>
<text x="461.55" y="561.46" font-size="7.4" class="n" font-style="italic" text-anchor="middle" fill="#000" stroke="#000" stroke-width="0.15">#</text>
<text transform="translate(461.55 600.6) rotate(-58)" text-anchor="end" font-size="8.7" stroke="#000" stroke-width="0.3">F18A</text>
<rect x="470.3" y="543.1" width="7.4" height="45.1" fill="#000"/>
<path d="M481 520.2V512.2" stroke="#000" stroke-width="1.7" fill="none"/><path d="M479 512.2H483" stroke="#000" stroke-width="1.7" stroke-linecap="round" fill="none"/>
<rect x="478.2" y="520.1" width="5.6" height="68.1" fill="#fff" stroke="#000" stroke-width="1.8"/>
<path d="M477.7 588.2V593.4" stroke="#000" stroke-width="1.8"/>
<path d="M473.6 538.4L473.6 536.1M473.6 538.4L475.79 537.69M473.6 538.4L474.95 540.26M473.6 538.4L472.25 540.26M473.6 538.4L471.41 537.69" stroke="#000" stroke-width="1.1" stroke-linecap="round" fill="none"/>
<text transform="translate(481 600.6) rotate(-58)" text-anchor="end" font-size="8.7" stroke="#000" stroke-width="0.3">D19N-L20A-P21A</text>
<rect x="489.75" y="572.2" width="7.4" height="16" fill="#000"/>
<path d="M500.45 571.2V569.6" stroke="#000" stroke-width="1.7" fill="none"/><path d="M498.45 569.6H502.45" stroke="#000" stroke-width="1.7" stroke-linecap="round" fill="none"/>
<rect x="497.65" y="571.1" width="5.6" height="17.1" fill="#fff" stroke="#000" stroke-width="1.8"/>
<path d="M497.15 588.2V593.4" stroke="#000" stroke-width="1.8"/>
<path d="M493.05 567.3L493.05 565M493.05 567.3L495.24 566.59M493.05 567.3L494.4 569.16M493.05 567.3L491.7 569.16M493.05 567.3L490.86 566.59" stroke="#000" stroke-width="1.1" stroke-linecap="round" fill="none"/>
<text x="500.45" y="566.96" font-size="7.4" class="n" font-style="italic" text-anchor="middle" fill="#000" stroke="#000" stroke-width="0.15">#</text>
<text transform="translate(500.45 600.6) rotate(-58)" text-anchor="end" font-size="8.7" stroke="#000" stroke-width="0.3">P22A-A23S</text>
<path d="M513.3 428V410.7" stroke="#000" stroke-width="1.7" fill="none"/><path d="M511.3 410.7H515.3" stroke="#000" stroke-width="1.7" stroke-linecap="round" fill="none"/>
<rect x="509.2" y="427" width="7.4" height="161.2" fill="#000"/>
<path d="M519.9 470.1V463.2" stroke="#000" stroke-width="1.7" fill="none"/><path d="M517.9 463.2H521.9" stroke="#000" stroke-width="1.7" stroke-linecap="round" fill="none"/>
<rect x="517.1" y="470" width="5.6" height="118.2" fill="#fff" stroke="#000" stroke-width="1.8"/>
<path d="M516.6 588.2V593.4" stroke="#000" stroke-width="1.8"/>
<path d="M512.5 405.8L512.5 403.5M512.5 405.8L514.69 405.09M512.5 405.8L513.85 407.66M512.5 405.8L511.15 407.66M512.5 405.8L510.31 405.09" stroke="#000" stroke-width="1.1" stroke-linecap="round" fill="none"/>
<text x="519.9" y="459.36" font-size="7.4" class="n" font-style="italic" text-anchor="middle" fill="#000" stroke="#000" stroke-width="0.15">#</text>
<text transform="translate(519.9 600.6) rotate(-58)" text-anchor="end" font-size="8.7" stroke="#000" stroke-width="0.3">R70Q</text>
<rect x="528.65" y="584.4" width="7.4" height="3.8" fill="#000"/>
<path d="M539.35 586.5V585.3" stroke="#000" stroke-width="1.7" fill="none"/><path d="M537.35 585.3H541.35" stroke="#000" stroke-width="1.7" stroke-linecap="round" fill="none"/>
<rect x="536.55" y="586.4" width="5.6" height="1.8" fill="#fff" stroke="#000" stroke-width="1.8"/>
<path d="M536.05 588.2V593.4" stroke="#000" stroke-width="1.8"/>
<path d="M531.95 579.7L531.95 577.4M531.95 579.7L534.14 578.99M531.95 579.7L533.3 581.56M531.95 579.7L530.6 581.56M531.95 579.7L529.76 578.99" stroke="#000" stroke-width="1.1" stroke-linecap="round" fill="none"/>
<text x="539.35" y="583.66" font-size="7.4" class="n" font-style="italic" text-anchor="middle" fill="#000" stroke="#000" stroke-width="0.15">#</text>
<text transform="translate(539.35 600.6) rotate(-58)" text-anchor="end" font-size="8.7" stroke="#000" stroke-width="0.3">W74A</text>
<rect x="548.1" y="575.2" width="7.4" height="13" fill="#000"/>
<path d="M558.8 559.1V556.8" stroke="#000" stroke-width="1.7" fill="none"/><path d="M556.8 556.8H560.8" stroke="#000" stroke-width="1.7" stroke-linecap="round" fill="none"/>
<rect x="556" y="559" width="5.6" height="29.2" fill="#fff" stroke="#000" stroke-width="1.8"/>
<path d="M555.5 588.2V593.4" stroke="#000" stroke-width="1.8"/>
<path d="M551.4 571L551.4 568.7M551.4 571L553.59 570.29M551.4 571L552.75 572.86M551.4 571L550.05 572.86M551.4 571L549.21 570.29" stroke="#000" stroke-width="1.1" stroke-linecap="round" fill="none"/>
<text x="558.8" y="553.96" font-size="7.4" class="n" font-style="italic" text-anchor="middle" fill="#000" stroke="#000" stroke-width="0.15">#</text>
<text transform="translate(558.8 600.6) rotate(-58)" text-anchor="end" font-size="8.7" stroke="#000" stroke-width="0.3">Q78A</text>
<rect x="567.55" y="572.2" width="7.4" height="16" fill="#000"/>
<path d="M578.25 551.6V549" stroke="#000" stroke-width="1.7" fill="none"/><path d="M576.25 549H580.25" stroke="#000" stroke-width="1.7" stroke-linecap="round" fill="none"/>
<rect x="575.45" y="551.5" width="5.6" height="36.7" fill="#fff" stroke="#000" stroke-width="1.8"/>
<path d="M574.95 588.2V593.4" stroke="#000" stroke-width="1.8"/>
<path d="M570.85 566.8L570.85 564.5M570.85 566.8L573.04 566.09M570.85 566.8L572.2 568.66M570.85 566.8L569.5 568.66M570.85 566.8L568.66 566.09" stroke="#000" stroke-width="1.1" stroke-linecap="round" fill="none"/>
<text x="578.25" y="546.46" font-size="7.4" class="n" font-style="italic" text-anchor="middle" fill="#000" stroke="#000" stroke-width="0.15">#</text>
<text transform="translate(578.25 600.6) rotate(-58)" text-anchor="end" font-size="8.7" stroke="#000" stroke-width="0.3">F18A-P21A</text>
<path d="M591.1 530.7V525.1" stroke="#000" stroke-width="1.7" fill="none"/><path d="M589.1 525.1H593.1" stroke="#000" stroke-width="1.7" stroke-linecap="round" fill="none"/>
<rect x="587" y="529.7" width="7.4" height="58.5" fill="#000"/>
<path d="M597.7 511.4V507" stroke="#000" stroke-width="1.7" fill="none"/><path d="M595.7 507H599.7" stroke="#000" stroke-width="1.7" stroke-linecap="round" fill="none"/>
<rect x="594.9" y="511.3" width="5.6" height="76.9" fill="#fff" stroke="#000" stroke-width="1.8"/>
<path d="M594.4 588.2V593.4" stroke="#000" stroke-width="1.8"/>
<text transform="translate(597.7 600.6) rotate(-58)" text-anchor="end" font-size="8.7" stroke="#000" stroke-width="0.3">D19N-A23S</text>
<rect x="606.45" y="580.7" width="7.4" height="7.5" fill="#000"/>
<path d="M617.15 574.5V573" stroke="#000" stroke-width="1.7" fill="none"/><path d="M615.15 573H619.15" stroke="#000" stroke-width="1.7" stroke-linecap="round" fill="none"/>
<rect x="614.35" y="574.4" width="5.6" height="13.8" fill="#fff" stroke="#000" stroke-width="1.8"/>
<path d="M613.85 588.2V593.4" stroke="#000" stroke-width="1.8"/>
<path d="M609.75 576.4L609.75 574.1M609.75 576.4L611.94 575.69M609.75 576.4L611.1 578.26M609.75 576.4L608.4 578.26M609.75 576.4L607.56 575.69" stroke="#000" stroke-width="1.1" stroke-linecap="round" fill="none"/>
<text x="617.15" y="569.96" font-size="7.4" class="n" font-style="italic" text-anchor="middle" fill="#000" stroke="#000" stroke-width="0.15">#</text>
<text transform="translate(617.15 600.6) rotate(-58)" text-anchor="end" font-size="8.7" stroke="#000" stroke-width="0.3">F18A/Q78A</text>
<rect x="625.9" y="575.7" width="7.4" height="12.5" fill="#000"/>
<path d="M636.6 511.4V507" stroke="#000" stroke-width="1.7" fill="none"/><path d="M634.6 507H638.6" stroke="#000" stroke-width="1.7" stroke-linecap="round" fill="none"/>
<rect x="633.8" y="511.3" width="5.6" height="76.9" fill="#fff" stroke="#000" stroke-width="1.8"/>
<path d="M633.3 588.2V593.4" stroke="#000" stroke-width="1.8"/>
<path d="M629.2 570.5L629.2 568.2M629.2 570.5L631.39 569.79M629.2 570.5L630.55 572.36M629.2 570.5L627.85 572.36M629.2 570.5L627.01 569.79" stroke="#000" stroke-width="1.1" stroke-linecap="round" fill="none"/>
<text transform="translate(636.6 600.6) rotate(-58)" text-anchor="end" font-size="8.7" stroke="#000" stroke-width="0.3">R97Q</text>
<path d="M649.45 539.1V528.1" stroke="#000" stroke-width="1.7" fill="none"/><path d="M647.45 528.1H651.45" stroke="#000" stroke-width="1.7" stroke-linecap="round" fill="none"/>
<rect x="645.35" y="538.1" width="7.4" height="50.1" fill="#000"/>
<path d="M656.05 536.1V533.4" stroke="#000" stroke-width="1.7" fill="none"/><path d="M654.05 533.4H658.05" stroke="#000" stroke-width="1.7" stroke-linecap="round" fill="none"/>
<rect x="653.25" y="536" width="5.6" height="52.2" fill="#fff" stroke="#000" stroke-width="1.8"/>
<path d="M652.75 588.2V593.4" stroke="#000" stroke-width="1.8"/>
<text x="656.05" y="532.36" font-size="7.4" class="n" font-style="italic" text-anchor="middle" fill="#000" stroke="#000" stroke-width="0.15">#</text>
<text transform="translate(656.05 600.6) rotate(-58)" text-anchor="end" font-size="8.7" stroke="#000" stroke-width="0.3">Y105A</text>
<rect x="664.8" y="581.9" width="7.4" height="6.3" fill="#000"/>
<path d="M675.5 559.5V553.8" stroke="#000" stroke-width="1.7" fill="none"/><path d="M673.5 553.8H677.5" stroke="#000" stroke-width="1.7" stroke-linecap="round" fill="none"/>
<rect x="672.7" y="559.4" width="5.6" height="28.8" fill="#fff" stroke="#000" stroke-width="1.8"/>
<path d="M672.2 588.2V593.4" stroke="#000" stroke-width="1.8"/>
<path d="M668.1 577.2L668.1 574.9M668.1 577.2L670.29 576.49M668.1 577.2L669.45 579.06M668.1 577.2L666.75 579.06M668.1 577.2L665.91 576.49" stroke="#000" stroke-width="1.1" stroke-linecap="round" fill="none"/>
<text x="675.5" y="551.66" font-size="7.4" class="n" font-style="italic" text-anchor="middle" fill="#000" stroke="#000" stroke-width="0.15">#</text>
<text transform="translate(675.5 600.6) rotate(-58)" text-anchor="end" font-size="8.7" stroke="#000" stroke-width="0.3">R97Q/Y105A</text>
<rect x="684.25" y="586.2" width="7.4" height="2" fill="#000"/>
<rect x="691.25" y="586.6" width="7.4" height="1.6" fill="#000"/>
<path d="M691.65 588.2V593.4" stroke="#000" stroke-width="1.8"/>
<path d="M687.55 581.5L687.55 579.2M687.55 581.5L689.74 580.79M687.55 581.5L688.9 583.36M687.55 581.5L686.2 583.36M687.55 581.5L685.36 580.79" stroke="#000" stroke-width="1.1" stroke-linecap="round" fill="none"/>
<text x="694.95" y="584.86" font-size="7.4" class="n" font-style="italic" text-anchor="middle" fill="#000" stroke="#000" stroke-width="0.15">#</text>
<text transform="translate(694.95 600.6) rotate(-58)" text-anchor="end" font-size="8.7" stroke="#000" stroke-width="0.3">DD-<tspan class="n" font-size="8.26">Δ</tspan></text>
<rect x="703.7" y="586.9" width="7.4" height="1.3" fill="#000"/>
<rect x="710.7" y="587" width="7.4" height="1.2" fill="#000"/>
<path d="M711.1 588.2V593.4" stroke="#000" stroke-width="1.8"/>
<text transform="translate(714.4 600.6) rotate(-58)" text-anchor="end" font-size="8.7" stroke="#000" stroke-width="0.3">empty vector</text>
</g></svg></body></html>
